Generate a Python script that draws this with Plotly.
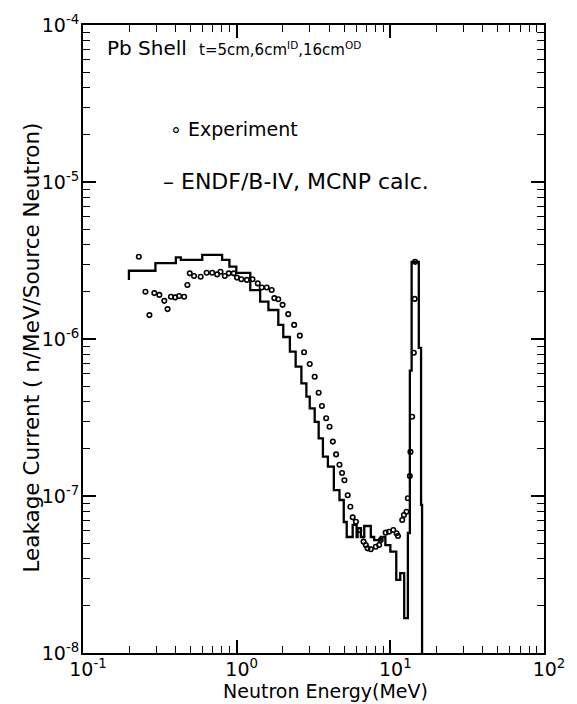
import plotly.graph_objects as go

# ---- data ----
# MCNP calculation (ENDF/B-IV): histogram bin edges (MeV) and bin values
calc_edges = [0.199, 0.296, 0.402, 0.433, 0.597, 0.804, 0.897, 0.995, 1.226, 1.422,
              1.609, 1.866, 2.01, 2.22, 2.42, 2.638, 2.842, 2.989, 3.219, 3.417,
              3.641, 3.923, 4.289, 4.667, 4.976, 5.202, 5.686, 6.034, 6.125, 6.432,
              6.766, 7.463, 7.849, 8.659, 9.284, 10.0, 10.93, 11.60, 12.31, 13.01,
              13.40, 13.76, 15.32, 15.85, 16.09]
calc_values = [2.72e-6, 3.04e-6, 3.31e-6, 3.19e-6, 3.43e-6, 3.19e-6, 2.89e-6, 2.64e-6, 2.05e-6, 1.73e-6,
               1.53e-6, 1.23e-6, 1.03e-6, 8.3e-7, 6.66e-7, 5.22e-7, 4.29e-7, 3.62e-7, 2.97e-7, 2.33e-7,
               1.78e-7, 1.54e-7, 1.09e-7, 9.43e-8, 6.83e-8, 5.48e-8, 6.54e-8, 5.48e-8, 6.25e-8, 5.48e-8,
               6.44e-8, 5.48e-8, 5.24e-8, 5.48e-8, 4.87e-8, 4.42e-8, 2.92e-8, 3.23e-8, 1.67e-8, 5.81e-8,
               6.28e-7, 3.1e-6, 8.77e-7, 8.77e-8]
calc_start = 2.38e-6   # value where the left edge of the histogram begins
calc_end = 1e-9        # histogram falls to zero (below axis) after last bin

# Experiment
exp_energy = [0.2308, 0.2549, 0.2706, 0.2913, 0.3140, 0.3381, 0.3551, 0.3736, 0.3981, 0.4224,
              0.4550, 0.4779, 0.4952, 0.5280, 0.5831, 0.6375, 0.6929, 0.7465, 0.7849, 0.8368,
              0.8879, 0.9563, 1.004, 1.072, 1.165, 1.268, 1.372, 1.456, 1.569, 1.690,
              1.759, 1.866, 1.990, 2.165, 2.367, 2.576, 2.746, 2.989, 3.219, 3.417,
              3.587, 3.825, 4.022, 4.225, 4.437, 4.667, 4.852, 5.027, 5.280, 5.495,
              5.686, 5.972, 6.283, 6.695, 6.927, 7.106, 7.463, 8.04, 8.457, 8.659,
              9.326, 9.81, 10.46, 10.98, 11.21, 11.95, 12.26, 12.74, 13.01, 13.40,
              13.52, 13.87, 14.22, 14.40, 14.50]
exp_current = [3.34e-6, 2.00e-6, 1.42e-6, 1.96e-6, 1.91e-6, 1.75e-6, 1.55e-6, 1.86e-6, 1.84e-6, 1.88e-6,
               1.86e-6, 2.21e-6, 2.62e-6, 2.52e-6, 2.49e-6, 2.64e-6, 2.64e-6, 2.58e-6, 2.68e-6, 2.52e-6,
               2.62e-6, 2.62e-6, 2.46e-6, 2.40e-6, 2.38e-6, 2.40e-6, 2.26e-6, 2.13e-6, 2.13e-6, 2.05e-6,
               1.82e-6, 1.79e-6, 1.65e-6, 1.44e-6, 1.23e-6, 1.05e-6, 8.23e-7, 6.93e-7, 5.75e-7, 4.55e-7,
               3.74e-7, 3.13e-7, 2.76e-7, 2.22e-7, 1.84e-7, 1.58e-7, 1.40e-7, 1.26e-7, 1.01e-7, 8.55e-8,
               7.31e-8, 6.86e-8, 6.07e-8, 5.12e-8, 4.87e-8, 4.64e-8, 4.58e-8, 4.75e-8, 4.87e-8, 5.24e-8,
               5.84e-8, 5.92e-8, 6.07e-8, 5.79e-8, 5.56e-8, 7.03e-8, 7.57e-8, 7.94e-8, 9.67e-8, 1.34e-7,
               1.91e-7, 3.20e-7, 8.18e-7, 1.8e-6, 3.1e-6]

x_tickvals = [0.1, 1, 10, 100]
x_ticktext = ["10<sup>-1</sup>", "10<sup>0</sup>", "10<sup>1</sup>", "10<sup>2</sup>"]
y_tickvals = [1e-8, 1e-7, 1e-6, 1e-5, 1e-4]
y_ticktext = ["10<sup>-8</sup>", "10<sup>-7</sup>", "10<sup>-6</sup>", "10<sup>-5</sup>", "10<sup>-4</sup>"]

# ---- build step line from histogram ----
step_x = [calc_edges[0]] + calc_edges[:-1] + [calc_edges[-1], calc_edges[-1]]
step_y = [calc_start] + calc_values + [calc_values[-1], calc_end]

FONT = "DejaVu Sans"

fig = go.Figure()
fig.add_trace(go.Scatter(
    x=step_x, y=step_y, mode="lines", line=dict(color="black", width=2.3, shape="hv"),
    showlegend=False, hoverinfo="skip"))
fig.add_trace(go.Scatter(
    x=exp_energy, y=exp_current, mode="markers",
    marker=dict(symbol="circle-open", size=4.5, color="black", line=dict(width=1.6, color="black")),
    showlegend=False))

axis_common = dict(
    type="log", showline=True, linecolor="black", linewidth=2, mirror="allticks",
    ticks="inside", ticklen=13, tickwidth=1.6, tickcolor="black",
    showgrid=False, zeroline=False,
    tickfont=dict(family=FONT, size=19, color="black"),
    minor=dict(ticks="inside", ticklen=7, tickwidth=1.4, tickcolor="black", dtick="D1", showgrid=False),
)

fig.update_xaxes(range=[-1, 2], tickvals=x_tickvals, ticktext=x_ticktext,
                 ticklabelstandoff=-2, ticklabelshift=5, **axis_common)
fig.update_yaxes(range=[-8, -4], tickvals=y_tickvals, ticktext=y_ticktext,
                 ticklabelstandoff=-2, **axis_common)

annotations = [
    dict(text="Neutron Energy(MeV)", x=0.525, y=-0.060, font=dict(size=19)),
    dict(text="Leakage Current ( n/MeV/Source Neutron)", x=-0.112, y=0.487, textangle=-90,
         font=dict(size=21.5)),
    dict(text="Pb Shell", x=0.047, y=0.964, xanchor="left", font=dict(size=20)),
    dict(text="t=5cm,6cm<sup>ID</sup>,16cm<sup>OD</sup>", x=0.248, y=0.961, xanchor="left",
         font=dict(size=15)),
    dict(text="∘ Experiment", x=0.185, y=0.835, xanchor="left", font=dict(size=19)),
    dict(text="– ENDF/B-IV, MCNP calc.", x=0.170, y=0.751, xanchor="left", font=dict(size=22)),
]
for a in annotations:
    a.setdefault("xanchor", "center")
    a.update(xref="paper", yref="paper", showarrow=False, yanchor="middle")
    a["font"] = dict(family=FONT, color="black", **a["font"])
fig.update_layout(annotations=annotations)

fig.update_layout(
    width=577, height=704,
    margin=dict(l=83, r=29, t=25, b=51),
    plot_bgcolor="white", paper_bgcolor="white",
    font=dict(family=FONT, color="black"),
)

fig.write_html("out.html", config={"displayModeBar": False},
               post_script="document.body.style.margin='0';")
